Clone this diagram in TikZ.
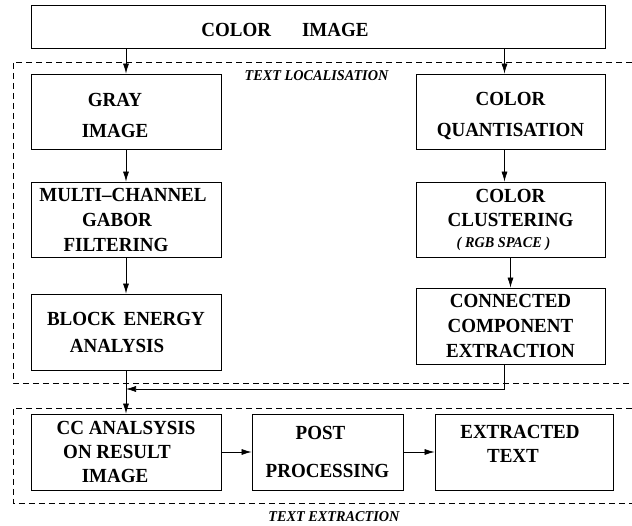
\documentclass[tikz,border=0pt]{standalone}
\usepackage{fontspec}
\setmainfont{Liberation Serif}[FakeStretch=0.95]
\usepackage{tikz}
\usetikzlibrary{arrows.meta}
\tikzset{>={Latex[length=10pt,width=6pt]}}
\tikzset{
    blk/.style={draw, line width=0.8pt, align=center, inner sep=0pt,
        font=\fontsize{20}{25}\selectfont\bfseries},
    zone/.style={line width=0.7pt, dash pattern=on 6pt off 4pt},
    flow/.style={->, line width=0.7pt},
    tag/.style={anchor=base, font=\fontsize{15}{17}\selectfont\bfseries\itshape}
}

\begin{document}
\begin{tikzpicture}[x=1pt, y=-1pt]
    \useasboundingbox (0,0) rectangle (632,526);

    % Input
    \node[blk, minimum width=574, minimum height=43, text height=20.4pt, text depth=0pt] (color) at (318,26.5)
        {COLOR\hspace{31pt}IMAGE\kern66pt};

    % Text localisation zone
    \draw[zone] (632,62) -- (13,62) -- (13,383) -- (632,383);
    \node[tag] (loc) at (316.5,80.3) {TEXT LOCALISATION};

    % Left branch
    \node[blk, minimum width=190, minimum height=75, text height=53pt] (gray) at (126,111.5)
        {GRAY\kern22pt\\[6pt]IMAGE\kern22pt};
    \node[blk, minimum width=190, minimum height=75] (gabor) at (126,219.5)
        {MULTI--CHANNEL\kern6pt\\GABOR\kern18pt\\FILTERING\kern20pt};
    \node[blk, minimum width=190, minimum height=76] (energy) at (126,332)
        {BLOCK\hspace{8pt}ENERGY\\[2pt]ANALYSIS\kern18pt};

    % Right branch
    \node[blk, minimum width=189, minimum height=75, text height=53pt] (quant) at (510.5,111.5)
        {COLOR\\[6pt]QUANTISATION};
    \node[blk, minimum width=189, minimum height=75] (clust) at (510.5,219.5)
        {COLOR\\[-1pt]CLUSTERING\\[-4pt]{\fontsize{15}{17}\selectfont\itshape ( RGB SPACE )\kern14pt}};
    \node[blk, minimum width=189, minimum height=76] (conn) at (510.5,326)
        {CONNECTED\\COMPONENT\\EXTRACTION};

    % Text extraction zone
    \draw[zone] (632,408) -- (13,408) -- (13,503) -- (632,503);
    \node[tag] (ext) at (334,521) {TEXT EXTRACTION};

    \node[blk, minimum width=190, minimum height=76] (cc) at (126,452)
        {CC ANALSYSIS\\[-1pt]ON RESULT\kern18pt\\[-1pt]IMAGE\kern22pt};
    \node[blk, minimum width=151, minimum height=76] (post) at (327.5,452)
        {POST\kern14pt\\[13pt]PROCESSING};
    \node[blk, minimum width=178, minimum height=76, text depth=16pt] (txt) at (524,452)
        {EXTRACTED\kern8pt\\[-1pt]TEXT\kern22pt};

    \coordinate (mrg) at (126,389);

    % Flow
    \draw[flow] (color.south -| gray.north) -- (gray.north);
    \draw[flow] ([xshift=-6pt]color.south -| quant.north) -- ([xshift=-6pt]quant.north);
    \draw[flow] (gray) -- (gabor);
    \draw[flow] (gabor) -- (energy);
    \draw[flow] ([xshift=-6pt]quant.south) -- ([xshift=-6pt]clust.north);
    \draw[flow] (clust) -- (conn);
    \draw[flow] ([xshift=-6pt]conn.south) |- (mrg);
    \draw[flow] (energy) -- (cc);
    \draw[flow] (cc) -- (post);
    \draw[flow] (post) -- (txt);
\end{tikzpicture}
\end{document}
